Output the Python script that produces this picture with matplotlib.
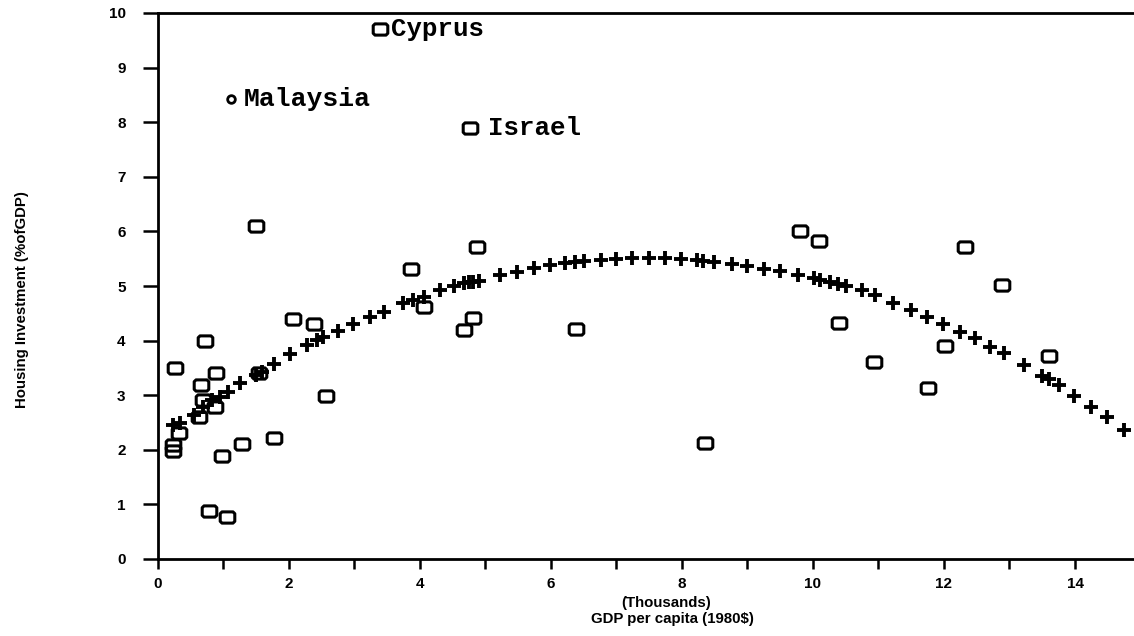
import matplotlib
matplotlib.use("Agg")
import matplotlib.pyplot as plt
from matplotlib.path import Path

# ---- data ----
sq_x = [0.24, 0.24, 0.27, 0.33, 0.64, 0.66, 0.70, 0.73, 0.79, 0.88, 0.90, 0.99,
        1.06, 1.29, 1.51, 1.55, 1.78, 2.06, 2.39, 2.57, 3.40, 3.87, 4.06, 4.67,
        4.77, 4.81, 4.87, 6.38, 8.36, 9.80, 10.09, 10.40, 10.93, 11.76, 12.02,
        12.32, 12.89, 13.60]
sq_y = [2.09, 1.97, 3.50, 2.30, 2.60, 3.19, 2.91, 4.00, 0.88, 2.79, 3.40, 1.89,
        0.77, 2.10, 6.09, 3.40, 2.21, 4.39, 4.30, 2.99, 9.70, 5.32, 4.61, 4.19,
        7.90, 4.41, 5.72, 4.21, 2.12, 6.01, 5.82, 4.32, 3.61, 3.13, 3.91,
        5.71, 5.02, 3.71]

circ_x = [1.12]
circ_y = [8.42]

fit_x = [0.24, 0.34, 0.55, 0.70, 0.83, 0.95, 1.08, 1.26, 1.51, 1.59, 1.77, 2.02,
         2.28, 2.43, 2.53, 2.76, 2.99, 3.24, 3.45, 3.75, 3.90, 4.06, 4.31, 4.52,
         4.67, 4.75, 4.82, 4.90, 5.23, 5.48, 5.74, 5.99, 6.22, 6.37, 6.51, 6.76,
         7.00, 7.24, 7.50, 7.75, 7.99, 8.23, 8.33, 8.49, 8.76, 9.00, 9.25, 9.50,
         9.77, 10.02, 10.11, 10.26, 10.38, 10.50, 10.75, 10.95, 11.23, 11.49,
         11.74, 11.99, 12.25, 12.48, 12.71, 12.91, 13.22, 13.50, 13.60, 13.75,
         13.98, 14.24, 14.49, 14.75]
fit_y = [2.45, 2.49, 2.64, 2.79, 2.91, 2.97, 3.06, 3.23, 3.37, 3.43, 3.58, 3.75,
         3.92, 4.01, 4.06, 4.18, 4.30, 4.44, 4.53, 4.68, 4.74, 4.80, 4.93, 5.00,
         5.05, 5.07, 5.08, 5.10, 5.20, 5.26, 5.33, 5.38, 5.43, 5.44, 5.45, 5.47,
         5.49, 5.51, 5.51, 5.51, 5.49, 5.47, 5.46, 5.44, 5.40, 5.36, 5.32, 5.27,
         5.21, 5.14, 5.11, 5.07, 5.03, 5.00, 4.93, 4.84, 4.69, 4.56,
         4.44, 4.31, 4.16, 4.04, 3.89, 3.77, 3.56, 3.36, 3.30, 3.18,
         2.98, 2.79, 2.60, 2.37]

labels = ["Cyprus", "Malaysia", "Israel"]
label_x = [3.40, 1.12, 4.77]
label_y = [9.70, 8.42, 7.90]

x_ticks = [0, 2, 4, 6, 8, 10, 12, 14]
y_ticks = [0, 1, 2, 3, 4, 5, 6, 7, 8, 9, 10]

# ---- figure ----
fig = plt.figure(figsize=(11.34, 6.36), dpi=100)
ax = fig.add_axes([157.5 / 1134, 77 / 636, 1 - 157.5 / 1134, (559 - 13) / 636])

# rounded-rectangle marker
w, h, r = 1.3, 1.0, 0.16
verts = [(-w/2 + r, -h/2), (w/2 - r, -h/2), (w/2, -h/2 + r), (w/2, h/2 - r),
         (w/2 - r, h/2), (-w/2 + r, h/2), (-w/2, h/2 - r), (-w/2, -h/2 + r),
         (-w/2 + r, -h/2)]
rrect = Path(verts, closed=True)

ax.plot(fit_x, fit_y, linestyle="none", marker="+", markersize=9.5,
        markeredgewidth=2.8, color="black", zorder=2)
ax.plot(sq_x, sq_y, linestyle="none", marker=rrect, markersize=10.5,
        markeredgewidth=2.2, markerfacecolor="none", markeredgecolor="black", zorder=3)
ax.plot(circ_x, circ_y, linestyle="none", marker="o", markersize=5.5,
        markeredgewidth=2.0, markerfacecolor="white", markeredgecolor="black", zorder=3)

offsets = [0.17, 0.20, 0.27]
sizes = [18.5, 19, 18.5]
for t, x, y, o, s in zip(labels, label_x, label_y, offsets, sizes):
    ax.text(x + o, y, t, family="Liberation Mono", fontweight="bold",
            fontsize=s, va="center", ha="left")

ax.set_xlim(0, 14.9)
ax.set_ylim(0, 10)
ax.set_xticks(range(0, 15))
ax.set_xticklabels([str(v) if v in x_ticks else "" for v in range(0, 15)])
ax.set_yticks(y_ticks)
ax.set_yticklabels([str(v) for v in y_ticks])

for side in ["left", "bottom", "top"]:
    ax.spines[side].set_linewidth(2.0)
ax.spines["right"].set_visible(False)

ax.tick_params(axis="y", direction="out", length=11, width=1.8, pad=12)
ax.tick_params(axis="x", direction="out", length=7, width=1.8, pad=6)
for lab in ax.get_xticklabels() + ax.get_yticklabels():
    lab.set_family("Liberation Sans")
    lab.set_fontweight("bold")
    lab.set_fontsize(11)

fig.text(22 / 1134, 1 - 300 / 636, "Housing Investment (%ofGDP)", rotation=90,
         family="Liberation Sans", fontweight="bold", fontsize=10.8,
         ha="center", va="center")
fig.text(666 / 1134, 1 - 603 / 636, "(Thousands)", family="Liberation Sans",
         fontweight="bold", fontsize=10.8, ha="center", va="center")
fig.text(672 / 1134, 1 - 619 / 636, "GDP per capita (1980$)", family="Liberation Sans",
         fontweight="bold", fontsize=10.8, ha="center", va="center")

fig.savefig("out.png", dpi=100)
